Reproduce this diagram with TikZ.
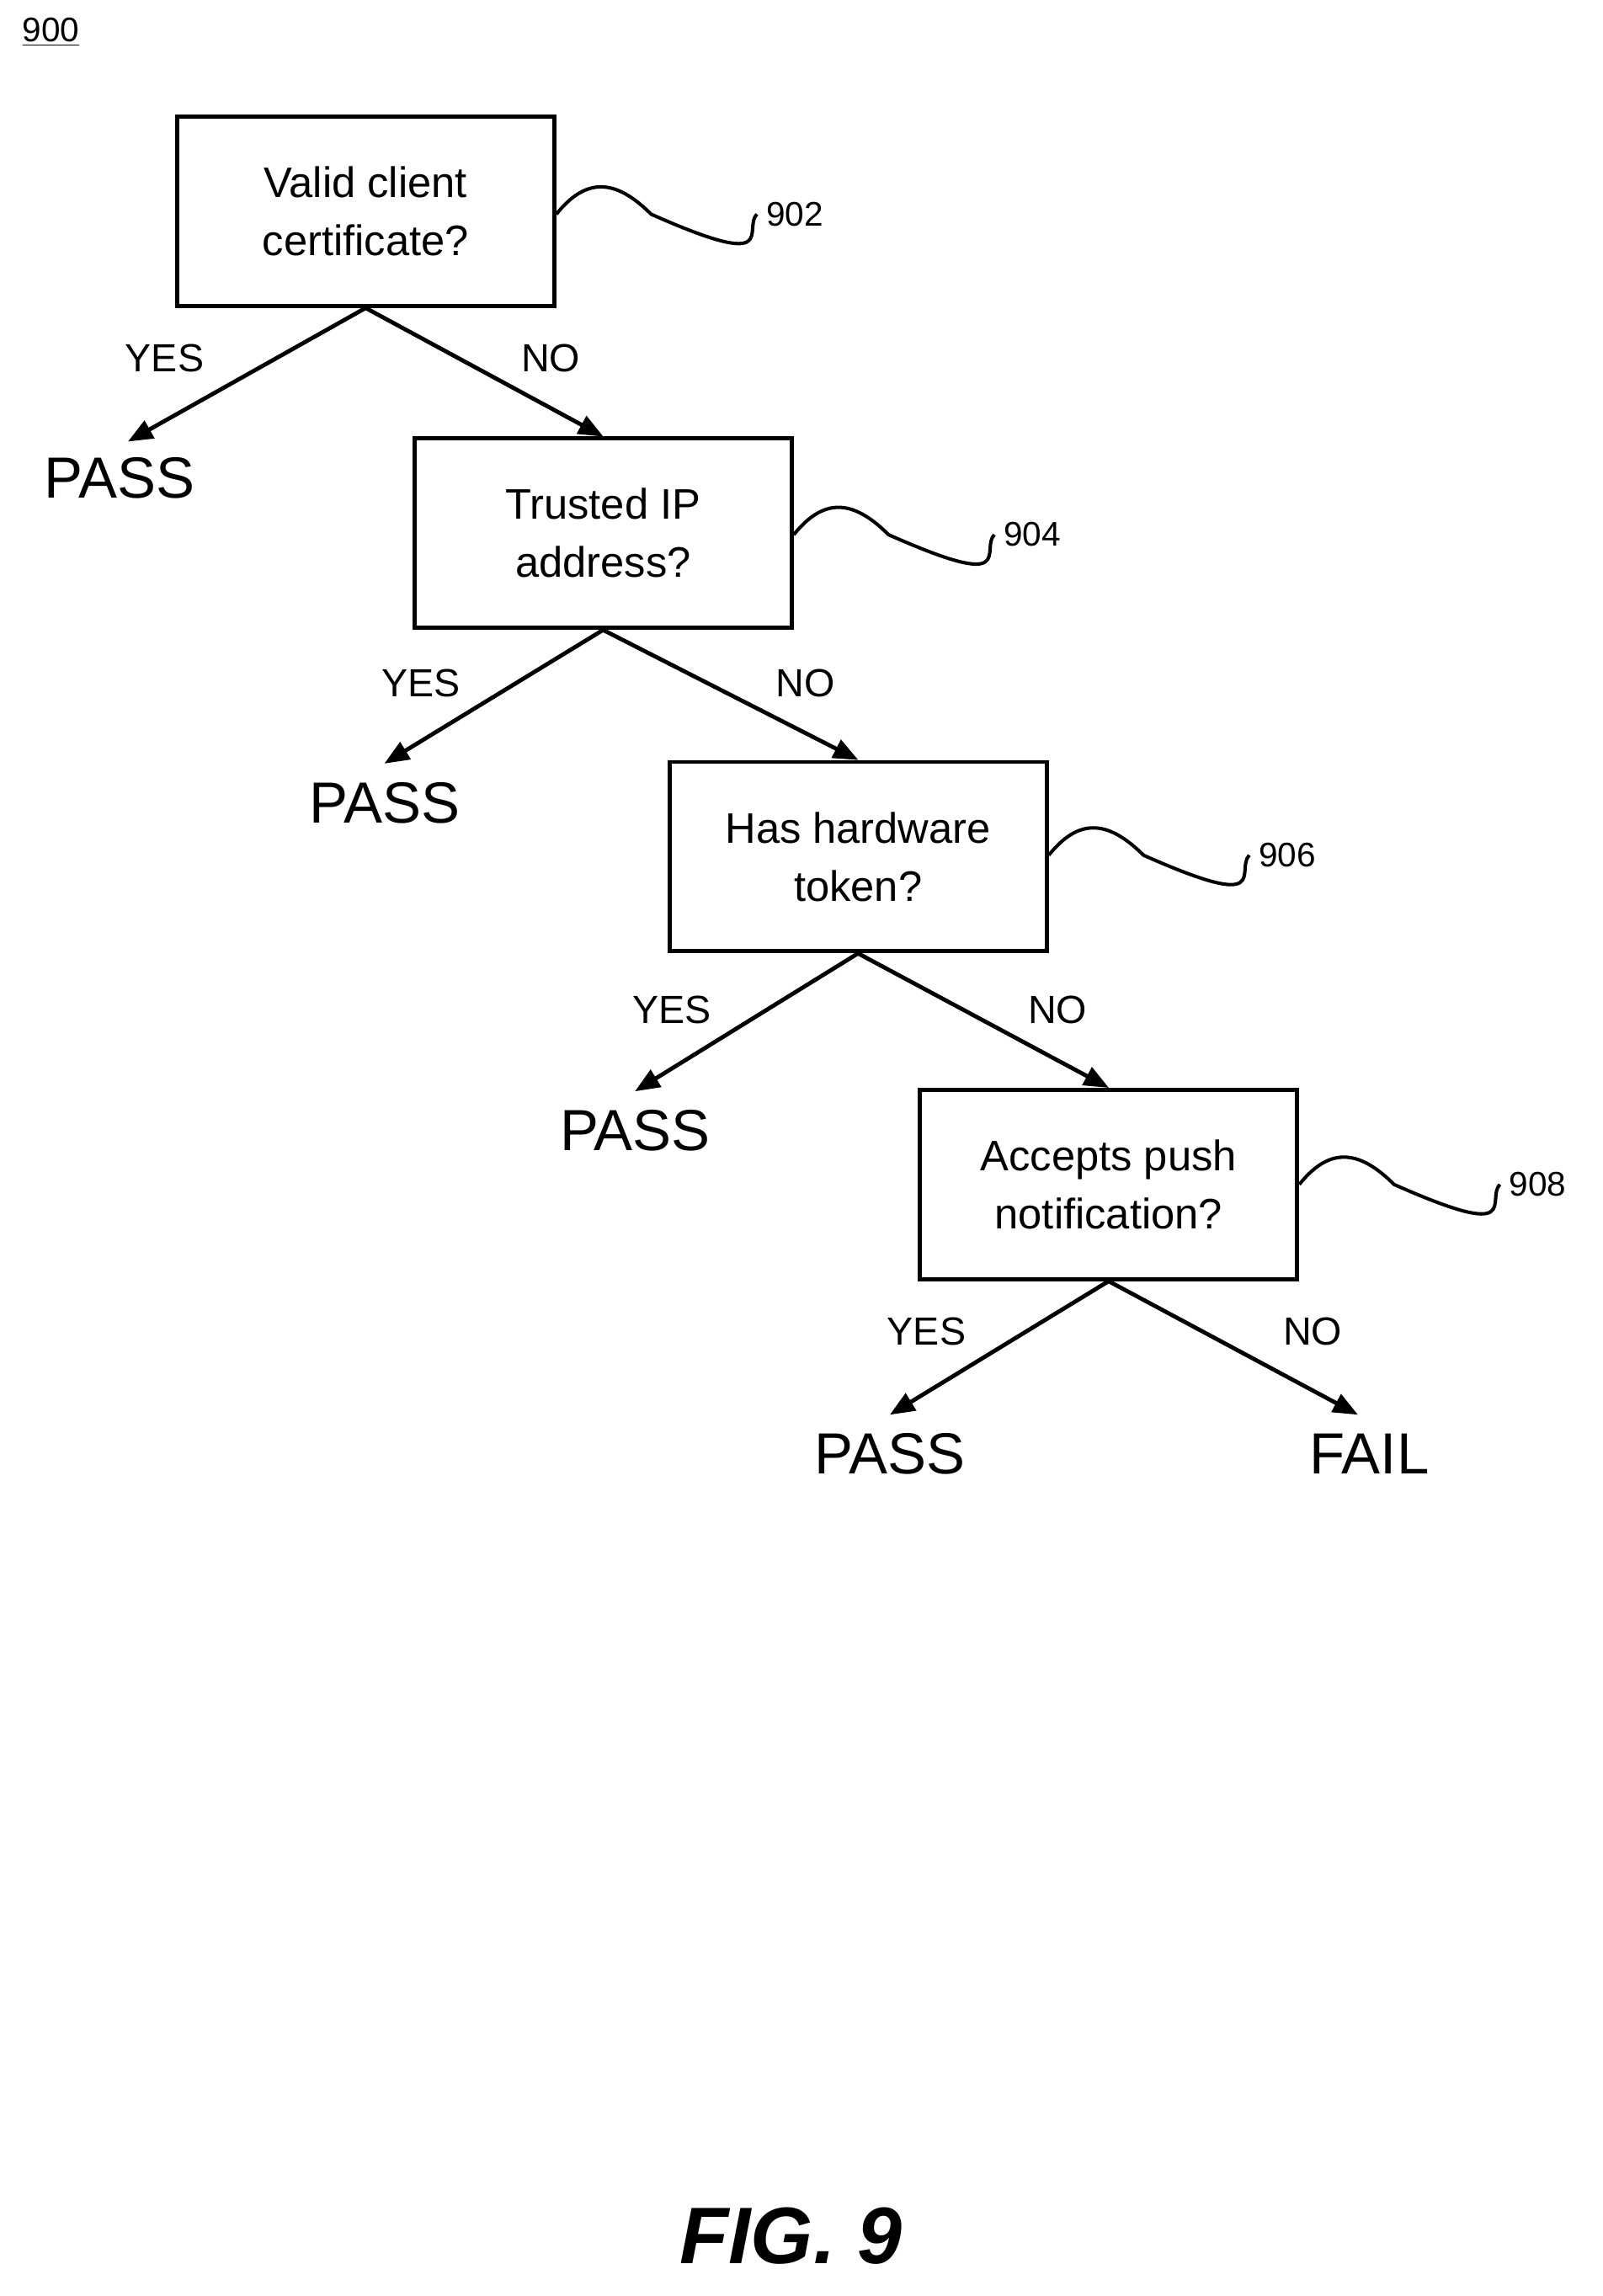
\documentclass[tikz,border=0pt]{standalone}
\usepackage{fontspec}
\setmainfont{Liberation Sans}
\usetikzlibrary{arrows}
\begin{document}
\begin{tikzpicture}[x=0.03cm,y=-0.03cm,>=triangle 45,
    box/.style={draw,line width=2.4pt,minimum width=259*0.03cm,minimum height=130*0.03cm,
      align=center,font=\fontsize{25}{34}\selectfont},
    answer/.style={font=\fontsize{34}{40}\selectfont},
    yn/.style={font=\fontsize{23}{28}\selectfont},
    refnum/.style={font=\fontsize{20}{24}\selectfont},
    branch/.style={->,line width=2.4pt}]
 \useasboundingbox (0,0) rectangle (1100,1576);

 \node[refnum] (fig) at (35,22) {\underline{900}};

 \node[box] (A) at (251,145) {Valid client\\certificate?};
 \node[box] (B) at (414,366) {Trusted IP\\address?};
 \node[box] (C) at (589,588) {Has hardware\\token?};
 \node[box] (D) at (761,813) {Accepts push\\notification?};

 \node[answer] (PA) at (82,328) {PASS};
 \node[answer] (PB) at (264,551) {PASS};
 \node[answer] (PC) at (436,776) {PASS};
 \node[answer] (PD) at (611,998) {PASS};
 \node[answer] (FD) at (940,998) {FAIL};

 % arrow tips sit just above the answers
 \coordinate (ta) at (88,303);
 \coordinate (tb) at (264,524);
 \coordinate (tc) at (436,749);
 \coordinate (td) at (611,971);
 \coordinate (tf) at (932,971);

 \draw[branch] (A.south) -- (ta);
 \draw[branch] (A.south) -- (B.north);
 \draw[branch] (B.south) -- (tb);
 \draw[branch] (B.south) -- (C.north);
 \draw[branch] (C.south) -- (tc);
 \draw[branch] (C.south) -- (D.north);
 \draw[branch] (D.south) -- (td);
 \draw[branch] (D.south) -- (tf);

 \node[yn] (ya) at (113,246) {YES};
 \node[yn] (na) at (378,246) {NO};
 \node[yn] (yb) at (289,469) {YES};
 \node[yn] (nb) at (553,469) {NO};
 \node[yn] (yc) at (461,693) {YES};
 \node[yn] (nc) at (726,693) {NO};
 \node[yn] (yd) at (636,914) {YES};
 \node[yn] (nd) at (901,914) {NO};

 % reference squiggles
 \foreach \b/\n/\y in {A/902/147,B/904/367,C/906/587,D/908/813}{
   \node[refnum,anchor=west] (r\n) at ([xshift=140*0.03cm]\b.east |- 0,\y) {\n};
   \draw[line width=2pt] (\b.east |- 0,\y) .. controls +(20,-25) and +(-25,-25) .. +(65,0)
     .. controls +(90,40) and +(-10,10) .. ([xshift=-2pt]r\n.west);
 }

 \node[font=\fontsize{47}{50}\selectfont\bfseries\itshape] (cap) at (543,1535) {FIG. 9};
\end{tikzpicture}
\end{document}
